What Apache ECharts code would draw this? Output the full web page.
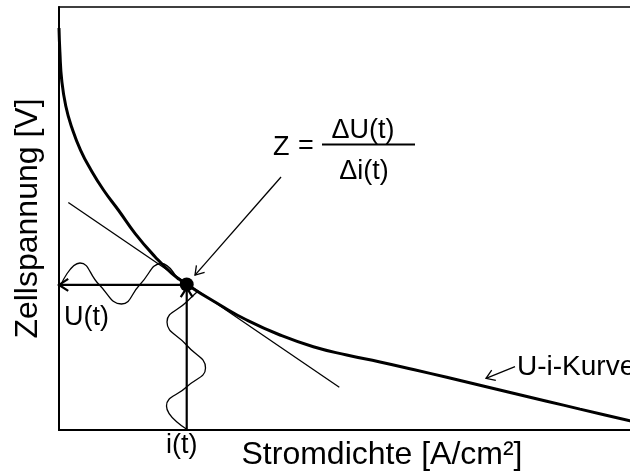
<!DOCTYPE html>
<html>
<head>
<meta charset="utf-8">
<script src="https://cdn.jsdelivr.net/npm/echarts@6/dist/echarts.min.js"></script>
<style>
  html, body { margin: 0; padding: 0; background: #fff; }
  #chart { width: 630px; height: 475px; }
</style>
</head>
<body>
<div id="chart"></div>
<script>
// Polarisation curve (schematic units: current density 0..100, voltage 0..100)
const uiCurve = [
  [0, 95.04], [0.14, 89.36], [0.42, 82.74], [1.05, 76.60], [2.01, 71.39],
  [3.33, 66.19], [4.95, 61.47], [6.89, 56.74], [9.18, 52.01], [11.76, 46.50],
  [14.86, 40.97], [17.45, 37.04], [19.77, 34.42], [24.92, 29.55], [29.06, 26.00],
  [34.21, 22.46], [39.37, 19.69], [44.54, 17.73], [49.69, 16.08], [54.85, 14.30],
  [60.02, 12.46], [65.17, 10.59], [70.33, 8.70], [75.50, 6.81], [80.65, 4.94],
  [88.39, 2.17], [93.03, 0.50]
];

// Operating point where the impedance is measured
const operatingPoint = [[19.77, 34.4]];

// Tangent to the curve at the operating point
const tangent = [[1.44, 53.8], [43.39, 10.1]];

// Voltage response U(t) oscillating around the operating point
const uWave = [
  [0.31, 34.40], [3.25, 39.48], [6.19, 34.40], [9.67, 29.79],
  [12.54, 34.40], [15.87, 39.36], [18.42, 35.46]
];

// Current excitation i(t) oscillating around the operating point
const iWave = [
  [19.77, 0.17], [16.64, 5.67], [19.74, 10.17], [22.68, 14.66],
  [19.74, 20.09], [16.72, 25.53], [19.74, 30.26], [21.36, 32.62]
];

// Projection arrows: [fromX, fromY, toX, toY]
const projectionArrows = [
  [19.77, 34.3, 0, 34.3],
  [19.77, 0, 19.77, 33.6]
];

// Pointer arrows to the operating point and to the curve
const pointerArrows = [
  [34.37, 59.8, 21.05, 36.6],
  [70.59, 15.0, 66.1, 12.2]
];

const FONT = 'Liberation Sans, Arial, Helvetica, sans-serif';

function arrowRenderer(width, headLen) {
  return function (params, api) {
    const a = api.coord([api.value(0), api.value(1)]);
    const b = api.coord([api.value(2), api.value(3)]);
    const ang = Math.atan2(b[1] - a[1], b[0] - a[0]);
    const s = Math.PI / 180 * 33;
    const w1 = [b[0] - headLen * Math.cos(ang - s), b[1] - headLen * Math.sin(ang - s)];
    const w2 = [b[0] - headLen * Math.cos(ang + s), b[1] - headLen * Math.sin(ang + s)];
    return {
      type: 'group',
      children: [
        { type: 'line', shape: { x1: a[0], y1: a[1], x2: b[0], y2: b[1] },
          style: { stroke: '#000', lineWidth: width } },
        { type: 'polyline', shape: { points: [w1, b, w2] },
          style: { stroke: '#000', lineWidth: width, fill: null } }
      ]
    };
  };
}

const chart = echarts.init(document.getElementById('chart'), null, { renderer: 'canvas' });

chart.setOption({
  animation: false,
  backgroundColor: '#fff',
  grid: {
    left: 59, top: 7, right: -75, bottom: 45,
    show: true, borderColor: '#000', borderWidth: 1.5,
    outerBoundsMode: 'none'
  },
  xAxis: {
    type: 'value', min: 0, max: 100,
    name: 'Stromdichte [A/cm²]', nameLocation: 'middle', nameGap: 9,
    nameTextStyle: { fontSize: 32, fontFamily: FONT, color: '#000' },
    axisLine: { show: true, onZero: false, lineStyle: { color: '#000', width: 2 } },
    axisTick: { show: false }, axisLabel: { show: false }, splitLine: { show: false }
  },
  yAxis: {
    type: 'value', min: 0, max: 100,
    name: 'Zellspannung [V]', nameLocation: 'middle', nameGap: 15,
    nameTextStyle: { fontSize: 32, fontFamily: FONT, color: '#000' },
    axisLine: { show: true, onZero: false, lineStyle: { color: '#000', width: 2 } },
    axisTick: { show: false }, axisLabel: { show: false }, splitLine: { show: false }
  },
  series: [
    {
      name: 'U-i-Kurve', type: 'line', data: uiCurve,
      smooth: 0.5, showSymbol: false,
      lineStyle: { color: '#000', width: 3 }, z: 3
    },
    {
      name: 'Tangente', type: 'line', data: tangent, showSymbol: false,
      lineStyle: { color: '#000', width: 1.3 }, z: 2
    },
    {
      name: 'U(t)', type: 'line', data: uWave, smooth: 0.5, showSymbol: false,
      lineStyle: { color: '#000', width: 1.3 }, z: 2, clip: false
    },
    {
      name: 'i(t)', type: 'line', data: iWave, smooth: 0.5, showSymbol: false,
      lineStyle: { color: '#000', width: 1.3 }, z: 2, clip: false
    },
    {
      name: 'Projektion', type: 'custom', data: projectionArrows,
      encode: { x: [0, 2], y: [1, 3] }, clip: false, z: 4,
      renderItem: arrowRenderer(2.2, 11)
    },
    {
      name: 'Zeiger', type: 'custom', data: pointerArrows,
      encode: { x: [0, 2], y: [1, 3] }, clip: false, z: 4,
      renderItem: arrowRenderer(1.3, 10)
    },
    {
      name: 'Arbeitspunkt', type: 'scatter', data: operatingPoint,
      symbol: 'circle', symbolSize: 14,
      itemStyle: { color: '#000', opacity: 1 }, z: 6
    }
  ],
  graphic: [
    { type: 'text', x: 64, y: 318, style: { text: 'U(t)', fontSize: 27, fontFamily: FONT, fill: '#000', align: 'left', verticalAlign: 'middle' } },
    { type: 'text', x: 166, y: 446, style: { text: 'i(t)', fontSize: 27, fontFamily: FONT, fill: '#000', align: 'left', verticalAlign: 'middle' } },
    { type: 'text', x: 517, y: 367, style: { text: 'U-i-Kurve', fontSize: 28, fontFamily: FONT, fill: '#000', align: 'left', verticalAlign: 'middle' } },
    { type: 'text', x: 273, y: 148, style: { text: 'Z', fontSize: 27, fontFamily: FONT, fill: '#000', align: 'left', verticalAlign: 'middle' } },
    { type: 'text', x: 306, y: 147, style: { text: '=', fontSize: 27, fontFamily: FONT, fill: '#000', align: 'center', verticalAlign: 'middle' } },
    { type: 'line', shape: { x1: 322, y1: 144.5, x2: 415, y2: 144.5 }, style: { stroke: '#000', lineWidth: 2 } },
    { type: 'text', x: 363, y: 131, style: { text: 'ΔU(t)', fontSize: 27, fontFamily: FONT, fill: '#000', align: 'center', verticalAlign: 'middle' } },
    { type: 'text', x: 364, y: 172, style: { text: 'Δi(t)', fontSize: 27, fontFamily: FONT, fill: '#000', align: 'center', verticalAlign: 'middle' } }
  ]
});
</script>
</body>
</html>
